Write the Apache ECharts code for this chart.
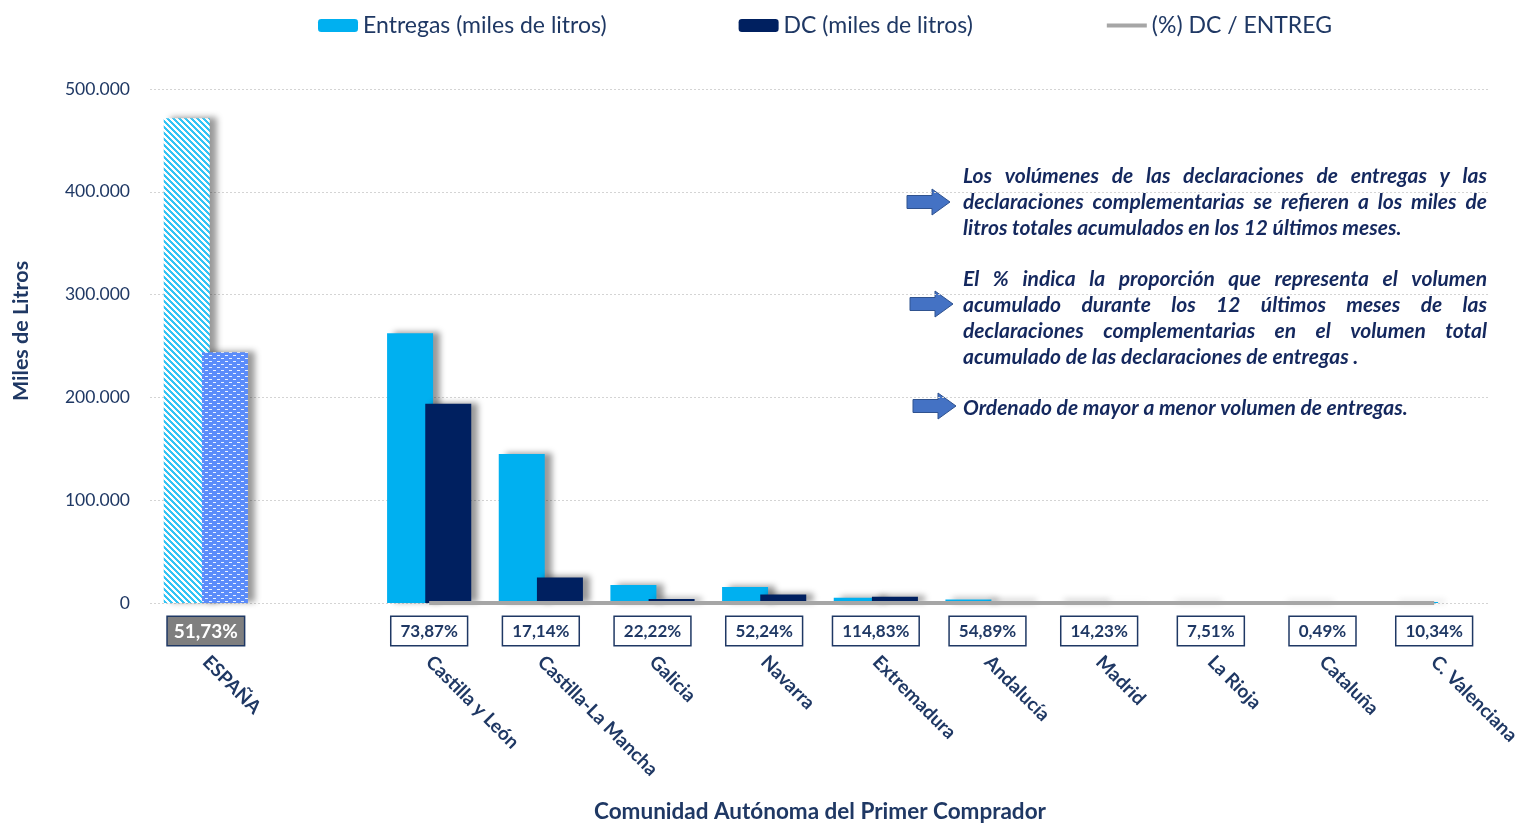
<!DOCTYPE html>
<html>
<head>
<meta charset="utf-8">
<script src="https://cdn.jsdelivr.net/npm/echarts@6/dist/echarts.min.js"></script>
<style>
  html, body { margin: 0; padding: 0; background: #fff; }
  #chart { width: 1522px; height: 825px; }
</style>
</head>
<body>
<div id="chart"></div>
<script>
// datos (miles de litros, acumulado 12 meses)
const categories = ['ESPAÑA', '', 'Castilla y León', 'Castilla-La Mancha', 'Galicia', 'Navarra',
  'Extremadura', 'Andalucía', 'Madrid', 'La Rioja', 'Cataluña', 'C. Valenciana'];
const entregas = [471500, null, 262500, 145000, 17500, 15600, 5200, 3500, 2000, 1200, 1000, 900];
const dc = [243900, null, 193900, 24850, 3890, 8150, 5970, 1920, 285, 90, 5, 93];
const pctDcEntreg = [51.73, null, 73.87, 17.14, 22.22, 52.24, 114.83, 54.89, 14.23, 7.51, 0.49, 10.34];
const yTicks = [0, 100000, 200000, 300000, 400000, 500000];

const NAVY = '#1f3864';
const FONT = 'Lato';

const notas = [
  ['Los volúmenes de las declaraciones de entregas y las', true, 176],
  ['declaraciones complementarias se refieren a los miles de', true, 202],
  ['litros totales acumulados en los 12 últimos meses.', false, 228],
  ['El %  indica la proporción que representa el volumen', true, 279],
  ['acumulado durante los 12 últimos meses de las', true, 305],
  ['declaraciones complementarias en el volumen total', true, 331],
  ['acumulado de las declaraciones de entregas .', false, 357],
  ['Ordenado de mayor a menor volumen de entregas.', false, 408]
];
const flechas = [[907, 202], [910, 304], [913, 406]];

// tramas para la barra de ESPAÑA
function makeTile(w, h, fn) {
  const c = document.createElement('canvas');
  c.width = w; c.height = h;
  const ctx = c.getContext('2d');
  const img = ctx.createImageData(w, h);
  for (let y = 0; y < h; y++) {
    for (let x = 0; x < w; x++) {
      const col = fn(x, y);
      const k = (y * w + x) * 4;
      img.data[k] = col[0]; img.data[k + 1] = col[1]; img.data[k + 2] = col[2]; img.data[k + 3] = 255;
    }
  }
  ctx.putImageData(img, 0, 0);
  return c;
}
const rayas = makeTile(6, 6, (x, y) => (((x - y) % 6 + 6) % 6 < 3) ? [51, 196, 245] : [255, 255, 255]);
const puntos = makeTile(8, 6, (x, y) => {
  const xm = x % 8, ym = y % 6;
  const white = (ym === 1 && xm >= 1 && xm <= 3) || (ym === 4 && xm >= 5 && xm <= 7);
  return white ? [235, 242, 255] : [91, 140, 250];
});

// texto justificado de la nota
const measure = document.createElement('canvas').getContext('2d');
const TX = 963, TW = 524;
let fs = 21;
while (fs > 12) {
  measure.font = 'italic bold ' + fs + 'px ' + FONT;
  const widest = Math.max(...notas.map(n => measure.measureText(n[0]).width));
  if (widest <= TW - 12) break;
  fs -= 0.5;
}
measure.font = 'italic bold ' + fs + 'px ' + FONT;
const graphics = [];
notas.forEach(([line, just, y]) => {
  const font = 'italic bold ' + fs + 'px ' + FONT;
  if (!just) {
    graphics.push({ type: 'text', x: TX, y: y, style: { text: line, font: font, fill: '#14285e', verticalAlign: 'middle' } });
    return;
  }
  const words = line.split(/\s+/);
  const widths = words.map(w => measure.measureText(w).width);
  const gap = (TW - widths.reduce((a, b) => a + b, 0)) / (words.length - 1);
  let x = TX;
  words.forEach((w, i) => {
    graphics.push({ type: 'text', x: x, y: y, style: { text: w, font: font, fill: '#14285e', verticalAlign: 'middle' } });
    x += widths[i] + gap;
  });
});
flechas.forEach(([x, y]) => {
  graphics.push({
    type: 'polygon', x: x, y: y,
    shape: { points: [[0, -6.5], [25, -6.5], [25, -13], [43, 0], [25, 13], [25, 6.5], [0, 6.5]] },
    style: { fill: '#4472c4', stroke: '#2f528f', lineWidth: 1 }
  });
});

const fmtMiles = v => String(v).replace(/\B(?=(\d{3})+(?!\d))/g, '.');
const fmtPct = v => v.toFixed(2).replace('.', ',') + '%';

const barShadow = { shadowColor: 'rgba(0,0,0,0.4)', shadowBlur: 6, shadowOffsetX: 7, shadowOffsetY: -1 };

const chart = echarts.init(document.getElementById('chart'));
chart.setOption({
  backgroundColor: '#fff',
  animation: false,
  textStyle: { fontFamily: FONT },
  legend: {
    left: 313, top: 9,
    itemGap: 132, itemWidth: 40, itemHeight: 13,
    textStyle: { color: NAVY, fontSize: 23, fontFamily: FONT },
    itemStyle: { shadowBlur: 0, shadowOffsetX: 0, shadowOffsetY: 0, shadowColor: 'transparent' },
    data: [
      'Entregas (miles de litros)',
      'DC (miles de litros)',
      { name: '(%) DC / ENTREG', itemStyle: { color: 'transparent', borderColor: 'transparent' },
        lineStyle: { width: 4, color: '#a6a6a6' } }
    ]
  },
  grid: { left: 150, right: 32, top: 89, bottom: 222, outerBoundsMode: 'none' },
  xAxis: [
    {
      type: 'category',
      data: categories,
      position: 'bottom',
      axisLine: { show: false },
      axisTick: { show: false },
      axisLabel: { interval: 0, rotate: -45, margin: 56, color: NAVY, fontSize: 19, fontWeight: 'bold' },
      name: 'Comunidad Autónoma del Primer Comprador',
      nameLocation: 'middle',
      nameGap: 197,
      nameTextStyle: { color: NAVY, fontSize: 22.5, fontWeight: 'bold' }
    },
    {
      type: 'category',
      data: categories,
      position: 'bottom',
      axisLine: { show: false },
      axisTick: { show: false },
      axisLabel: {
        interval: 0, margin: 14,
        formatter: (v, i) => {
          const p = pctDcEntreg[i];
          if (p == null) return '';
          return i === 0 ? '{esp|' + fmtPct(p) + '}' : '{box|' + fmtPct(p) + '}';
        },
        rich: {
          box: { color: NAVY, fontSize: 17, fontWeight: 'bold', fontFamily: FONT, backgroundColor: '#fff',
            borderColor: NAVY, borderWidth: 1.5, padding: [6, 9, 5, 9] },
          esp: { color: '#fff', fontSize: 19, fontWeight: 'bold', fontFamily: FONT, backgroundColor: '#7f7f7f',
            borderColor: NAVY, borderWidth: 1.5, padding: [5, 6, 4, 6] }
        }
      }
    }
  ],
  yAxis: {
    type: 'value',
    min: 0, max: 500000, interval: 100000,
    axisLine: { show: false },
    axisTick: { show: false },
    axisLabel: { color: NAVY, fontSize: 17.5, margin: 20, formatter: v => yTicks.includes(v) ? fmtMiles(v) : '' },
    splitLine: { lineStyle: { color: '#d4d4d4', type: [2, 2], width: 1 } },
    name: 'Miles de Litros',
    nameLocation: 'middle',
    nameGap: 118,
    nameTextStyle: { color: NAVY, fontSize: 21.5, fontWeight: 'bold', padding: [0, 0, 0, 30] }
  },
  series: [
    {
      name: 'Entregas (miles de litros)',
      type: 'bar',
      barWidth: 46,
      barGap: '-17%',
      itemStyle: Object.assign({ color: '#00b0f0' }, barShadow),
      data: entregas.map((v, i) => i === 0 ? { value: v, itemStyle: { color: { image: rayas, repeat: 'repeat' } } } : v)
    },
    {
      name: 'DC (miles de litros)',
      type: 'bar',
      barWidth: 46,
      itemStyle: Object.assign({ color: '#002060' }, barShadow),
      data: dc.map((v, i) => i === 0 ? { value: v, itemStyle: { color: { image: puntos, repeat: 'repeat' } } } : v)
    },
    {
      name: '(%) DC / ENTREG',
      type: 'line',
      symbol: 'none',
      z: 5,
      lineStyle: { color: '#a6a6a6', width: 4 },
      itemStyle: { color: '#a6a6a6' },
      data: pctDcEntreg.map(v => v == null ? null : v / 100)
    }
  ],
  graphic: graphics
});
</script>
</body>
</html>
